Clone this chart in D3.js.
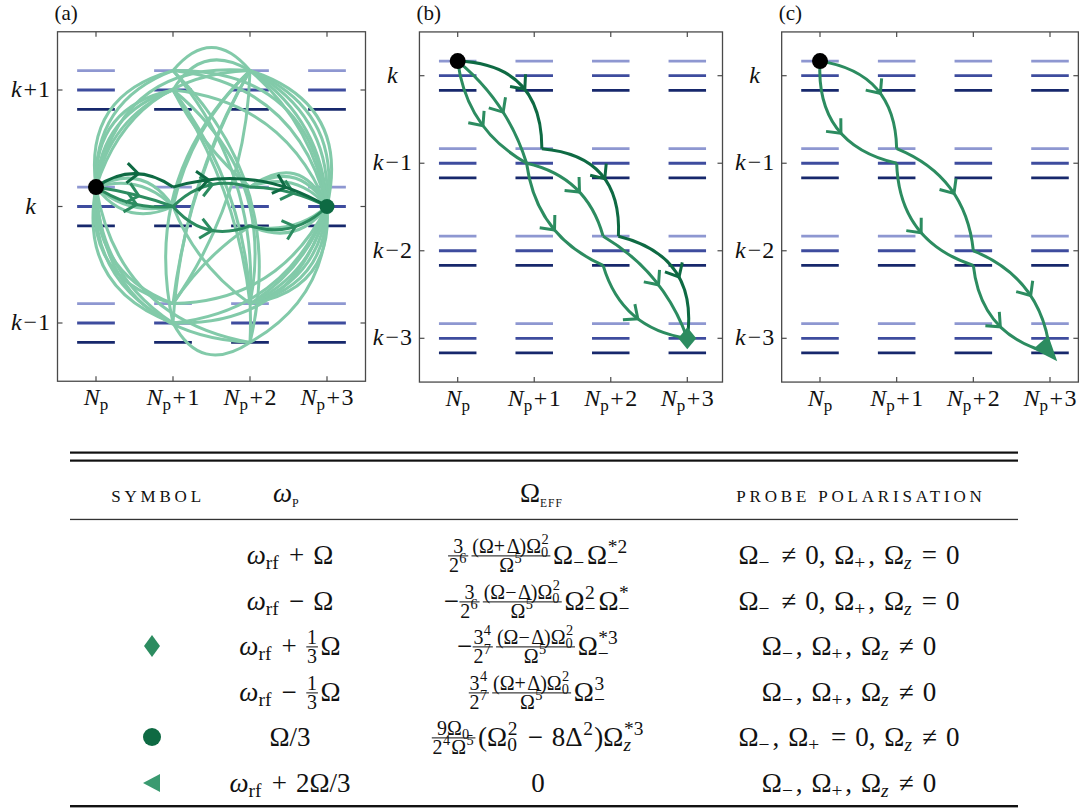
<!DOCTYPE html>
<html>
<head>
<meta charset="utf-8">
<script src="https://cdn.jsdelivr.net/npm/d3@7"></script>
<style>
  body { margin: 0; background: #fff; }
  svg { display: block; }
</style>
</head>
<body>
<svg id="fig" width="1092" height="810"></svg>
<script>
// ---------------- data ----------------
// photon-number columns and band indices shown on the axes
const photonSteps = [0, 1, 2, 3];
const photonLabels = ["", "1", "2", "3"];
const bandTicksA = [1, 0, -1];
const bandTicksBC = [0, -1, -2, -3];
// three Zeeman sublevels per band, offset in units of 1/6 of a band spacing
const sublevels = [1, 0, -1];

// node = [photon step, band offset from k, sublevel]
// panel (a): every route between the start and end states
const backgroundArcsA = [
  [[0,0,1],[1,1,0]], [[0,0,1],[1,1,0]], [[0,0,1],[1,1,0]],
  [[0,0,1],[1,1,1]], [[0,0,1],[1,1,1]], [[0,0,1],[2,1,1]], [[0,0,1],[2,1,1]],
  [[0,0,1],[1,-1,0]], [[0,0,1],[1,-1,0]], [[0,0,1],[1,-1,0]],
  [[0,0,1],[1,-1,1]], [[0,0,1],[1,-1,1]], [[0,0,1],[2,-1,-1]], [[0,0,1],[2,-1,-1]],
  [[0,0,1],[1,0,0]], [[0,0,1],[1,0,0]], [[0,0,1],[1,0,0]], [[0,0,1],[1,0,0]],
  [[1,1,1],[2,1,1]], [[1,1,0],[2,1,1]], [[1,1,0],[2,-1,1]], [[1,1,0],[2,-1,-1]],
  [[1,1,1],[2,-1,1]], [[1,1,1],[2,-1,-1]], [[1,1,0],[2,-1,1]],
  [[1,-1,0],[2,1,1]], [[1,-1,0],[2,1,1]], [[1,-1,0],[2,-1,-1]], [[1,-1,1],[2,1,1]], [[1,-1,1],[2,1,1]],
  [[1,0,0],[2,1,1]], [[1,0,0],[2,-1,1]], [[1,1,0],[2,0,1]], [[1,-1,1],[2,0,-1]],
  [[2,1,1],[3,0,0]], [[2,1,1],[3,0,0]], [[2,1,1],[3,0,0]], [[2,1,1],[3,0,0]], [[2,1,1],[3,0,0]],
  [[1,1,1],[3,0,0]], [[1,1,1],[3,0,0]], [[1,1,0],[3,0,0]],
  [[2,-1,1],[3,0,0]], [[2,-1,1],[3,0,0]], [[2,-1,1],[3,0,0]], [[2,-1,1],[3,0,0]], [[2,-1,1],[3,0,0]],
  [[1,-1,0],[3,0,0]], [[1,-1,0],[3,0,0]], [[1,-1,1],[3,0,0]],
  [[2,0,1],[3,0,0]], [[2,0,1],[3,0,0]], [[2,0,1],[3,0,0]],
  [[2,0,-1],[3,0,0]], [[2,0,-1],[3,0,0]], [[2,-1,-1],[3,0,0]]
];
const backgroundBendsA = [
  0.26, 0.34, 0.42, 0.36, 0.44, 0.35, 0.45,
  -0.26, -0.34, -0.42, -0.36, -0.44, -0.35, -0.45,
  0.45, 0.3, -0.25, -0.4,
  0.6, 0.5, 0.12, 0.18, 0.2, 0.28, 0.3,
  0.12, 0.28, -0.55, 0.1, -0.15,
  0.15, -0.15, -0.1, 0.1,
  0.18, 0.25, 0.32, 0.39, 0.46, 0.35, 0.45, 0.3,
  -0.18, -0.25, -0.32, -0.39, -0.46, -0.4, -0.3, -0.3,
  0.35, 0.5, 0.6, -0.25, -0.4, -0.3
];

// highlighted routes
const routesA = [
  [[0,0,1],[1,0,0],[2,0,1],[3,0,0]],
  [[0,0,1],[1,0,0],[2,0,-1],[3,0,0]],
  [[0,0,1],[1,0,1],[3,0,0]]
];
const routesB = [
  [[0,0,1],[0.9,-1,0],[1.9,-2,1],[3,-3,0]],
  [[0,0,1],[0.9,-1,0],[1.9,-2,-1],[3,-3,0]],
  [[0,0,1],[1.1,-1,1],[2.1,-2,1],[3,-3,0]]
];
const routesC = [
  [[0,0,1],[1,-1,1],[2,-2,0],[3,-3,-1]],
  [[0,0,1],[1,-1,0],[2,-2,-1],[3,-3,-1]]
];

// table rows
const rowSymbols = ["", "", "diamond", "", "circle", "triangle"];
const probeFrequencies = [
  "ω_{\\rm{rf}} + Ω",
  "ω_{\\rm{rf}} − Ω",
  "ω_{\\rm{rf}} + \\frac{1}{3}Ω",
  "ω_{\\rm{rf}} − \\frac{1}{3}Ω",
  "Ω/3",
  "ω_{\\rm{rf}} + 2Ω/3"
];
const effectiveCouplings = [
  "\\frac{3}{2^6}\\frac{(Ω+Δ)Ω_0^2}{Ω^5}Ω_−Ω_−^{*2}",
  "−\\frac{3}{2^6}\\frac{(Ω−Δ)Ω_0^2}{Ω^5}Ω_−^2Ω_−^*",
  "−\\frac{3^4}{2^7}\\frac{(Ω−Δ)Ω_0^2}{Ω^5}Ω_−^{*3}",
  "\\frac{3^4}{2^7}\\frac{(Ω+Δ)Ω_0^2}{Ω^5}Ω_−^3",
  "\\frac{9Ω_0}{2^4Ω^5}(Ω_0^2 − 8Δ^2)Ω_z^{*3}",
  "0"
];
const polarisations = [
  "Ω_− ≠ 0, Ω_+, Ω_z = 0",
  "Ω_− ≠ 0, Ω_+, Ω_z = 0",
  "Ω_−, Ω_+, Ω_z ≠ 0",
  "Ω_−, Ω_+, Ω_z ≠ 0",
  "Ω_−, Ω_+ = 0, Ω_z ≠ 0",
  "Ω_−, Ω_+, Ω_z ≠ 0"
];

// ---------------- styles ----------------
const FONT = "'Liberation Serif','Times New Roman',serif";
const levelColors = ["#8e97d1", "#3e4c9e", "#17286c"];
const GREEN_LIGHT = "#82caa9";
const GREEN_MID = "#2c8c60";
const GREEN_DARK = "#0e6a43";

const svg = d3.select("#fig").attr("font-family", FONT);

// ---------------- geometry helpers ----------------
function bezier(p0, p1, b) {
  const dx = p1[0] - p0[0], dy = p1[1] - p0[1];
  return [p0, [(p0[0] + p1[0]) / 2 + b * dy, (p0[1] + p1[1]) / 2 - b * dx], p1];
}
function pointAt(B, t) {
  const [a, c, d] = B, u = 1 - t;
  return [u*u*a[0] + 2*u*t*c[0] + t*t*d[0], u*u*a[1] + 2*u*t*c[1] + t*t*d[1]];
}
function tangentAt(B, t) {
  const [a, c, d] = B, u = 1 - t;
  const tx = 2*u*(c[0]-a[0]) + 2*t*(d[0]-c[0]);
  const ty = 2*u*(c[1]-a[1]) + 2*t*(d[1]-c[1]);
  const n = Math.hypot(tx, ty);
  return [tx / n, ty / n];
}
function curvePath(B) {
  const p = d3.path();
  p.moveTo(B[0][0], B[0][1]);
  p.quadraticCurveTo(B[1][0], B[1][1], B[2][0], B[2][1]);
  return p.toString();
}
function chevronPath(B, t, len, ang) {
  const P = pointAt(B, t), T = tangentAt(B, t);
  const bx = -T[0], by = -T[1];
  const arm = s => [P[0] + len * (bx * Math.cos(s*ang) - by * Math.sin(s*ang)),
                    P[1] + len * (bx * Math.sin(s*ang) + by * Math.cos(s*ang))];
  const a1 = arm(1), a2 = arm(-1);
  const p = d3.path();
  p.moveTo(a1[0], a1[1]); p.lineTo(P[0], P[1]); p.lineTo(a2[0], a2[1]);
  return p.toString();
}

// ---------------- panels ----------------
function bandLabel(g, k, x, y) {
  const t = g.append("text").attr("x", x).attr("y", y).attr("text-anchor", "middle")
    .attr("font-size", 24).attr("fill", "#111");
  t.append("tspan").attr("font-style", "italic").text("k");
  if (k > 0) { t.append("tspan").attr("dx", 2).text("+"); t.append("tspan").attr("dx", 1).text(k); }
  if (k < 0) { t.append("tspan").attr("dx", 2).text("−"); t.append("tspan").attr("dx", 1).text(-k); }
}
function photonLabel(g, i, x, y) {
  const t = g.append("text").attr("x", x).attr("y", y).attr("text-anchor", "middle")
    .attr("font-size", 24).attr("fill", "#111");
  t.append("tspan").attr("font-style", "italic").text("N");
  t.append("tspan").attr("font-size", 17).attr("dy", 5).text("p");
  if (photonLabels[i]) {
    t.append("tspan").attr("dy", -5).attr("dx", 1.5).text("+");
    t.append("tspan").attr("dx", 1.5).text(photonLabels[i]);
  }
}

function drawPanel(cfg) {
  const g = svg.append("g");
  const x = d3.scaleLinear().domain([0, 3]).range(cfg.xr);
  const y = d3.scaleLinear().domain([cfg.bands[0], cfg.bands[cfg.bands.length - 1]]).range(cfg.yr);
  const fx0 = x(-0.5), fx1 = x(cfg.xRightEdge), fy0 = y(cfg.bands[0] + 0.5), fy1 = y(cfg.bands[cfg.bands.length - 1] - 0.5);
  const node = n => [x(n[0]), y(n[1] + n[2] / 6)];

  // sublevel bars
  photonSteps.forEach(i => cfg.bands.forEach(k => sublevels.forEach((s, si) => {
    g.append("line").attr("x1", x(i - 0.245)).attr("x2", x(i + 0.245))
      .attr("y1", y(k + s / 6)).attr("y2", y(k + s / 6))
      .attr("stroke", levelColors[si]).attr("stroke-width", 2.8);
  })));

  // background arcs
  (cfg.arcs || []).forEach((a, i) => {
    g.append("path").attr("d", curvePath(bezier(node(a[0]), node(a[1]), cfg.arcBends[i])))
      .attr("fill", "none").attr("stroke", GREEN_LIGHT).attr("stroke-width", 3);
  });

  // highlighted routes
  const endTangents = [];
  cfg.routes.forEach((r, ri) => {
    const col = cfg.routeColors[ri];
    const bends = cfg.routeBends[ri];
    for (let s = 0; s < r.length - 1; s++) {
      const B = bezier(node(r[s]), node(r[s + 1]), bends[s]);
      g.append("path").attr("d", curvePath(B)).attr("fill", "none")
        .attr("stroke", col).attr("stroke-width", 3);
      const ts = (cfg.chevronTs && cfg.chevronTs[ri] && cfg.chevronTs[ri][s]) || [0.55];
      ts.forEach(t => g.append("path").attr("d", chevronPath(B, t, 15, 0.72))
        .attr("fill", "none").attr("stroke", col).attr("stroke-width", 3)
        .attr("stroke-linejoin", "miter"));
      if (s === r.length - 2) endTangents.push(tangentAt(B, 1));
    }
  });

  // start and end markers
  const S = node(cfg.routes[0][0]);
  g.append("circle").attr("cx", S[0]).attr("cy", S[1]).attr("r", 8).attr("fill", "#000");
  const E = node(cfg.routes[0][cfg.routes[0].length - 1]);
  if (cfg.endMarker === "circle")
    g.append("circle").attr("cx", E[0]).attr("cy", E[1]).attr("r", 7.5).attr("fill", GREEN_DARK);
  if (cfg.endMarker === "diamond")
    g.append("path").attr("d", `M${E[0]},${E[1]-11}L${E[0]+9},${E[1]}L${E[0]},${E[1]+11}L${E[0]-9},${E[1]}Z`)
      .attr("fill", GREEN_MID);
  if (cfg.endMarker === "arrow") {
    let tx = d3.mean(endTangents, d => d[0]), ty = d3.mean(endTangents, d => d[1]);
    const n = Math.hypot(tx, ty); tx /= n; ty /= n;
    const tip = [E[0] + tx * 11, E[1] + ty * 11];
    const base = [tip[0] - tx * 25, tip[1] - ty * 25];
    const nx = -ty, ny = tx;
    g.append("path").attr("d", `M${tip}L${base[0] + nx*10},${base[1] + ny*10}L${base[0] - nx*10},${base[1] - ny*10}Z`)
      .attr("fill", cfg.routeColors[0]);
  }

  // frame and ticks
  g.append("rect").attr("x", fx0).attr("y", fy0).attr("width", fx1 - fx0).attr("height", fy1 - fy0)
    .attr("fill", "none").attr("stroke", "#4a4a4a").attr("stroke-width", 1.3);
  photonSteps.forEach(i => {
    g.append("line").attr("x1", x(i)).attr("x2", x(i)).attr("y1", fy1).attr("y2", fy1 - 5).attr("stroke", "#4a4a4a").attr("stroke-width", 1.2);
    g.append("line").attr("x1", x(i)).attr("x2", x(i)).attr("y1", fy0).attr("y2", fy0 + 5).attr("stroke", "#4a4a4a").attr("stroke-width", 1.2);
    photonLabel(g, i, x(i), fy1 + 24);
  });
  cfg.bands.forEach(k => {
    g.append("line").attr("x1", fx0).attr("x2", fx0 + 5).attr("y1", y(k)).attr("y2", y(k)).attr("stroke", "#4a4a4a").attr("stroke-width", 1.2);
    g.append("line").attr("x1", fx1).attr("x2", fx1 - 5).attr("y1", y(k)).attr("y2", y(k)).attr("stroke", "#4a4a4a").attr("stroke-width", 1.2);
    bandLabel(g, k, fx0 - 27, y(k) + 7);
  });
  g.append("text").attr("x", fx0 - 3).attr("y", 20).attr("font-size", 21).attr("fill", "#111").text(cfg.label);
}

drawPanel({
  label: "(a)", xr: [96, 327], yr: [90, 323], bands: bandTicksA, xRightEdge: 3.5,
  arcs: backgroundArcsA, arcBends: backgroundBendsA,
  routes: routesA, routeColors: [GREEN_MID, GREEN_MID, GREEN_DARK],
  routeBends: [[0.05, 0.3, 0.12], [-0.18, -0.35, -0.3], [0.35, 0.22]],
  chevronTs: [null, null, [[0.55], [0.22, 0.72]]],
  endMarker: "circle"
});
drawPanel({
  label: "(b)", xr: [457.7, 687.3], yr: [75.7, 338.3], bands: bandTicksBC, xRightEdge: 3.46,
  routes: routesB, routeColors: [GREEN_MID, GREEN_MID, GREEN_DARK],
  routeBends: [[-0.25, 0.3, 0.18], [0.15, -0.28, -0.32], [0.48, 0.48, 0.45]],
  endMarker: "diamond"
});
drawPanel({
  label: "(c)", xr: [820, 1050], yr: [75.7, 338.3], bands: bandTicksBC, xRightEdge: 3.37,
  routes: routesC, routeColors: [GREEN_MID, GREEN_MID],
  routeBends: [[0.42, 0.3, 0.3], [-0.42, -0.35, -0.35]],
  endMarker: "arrow"
});

// ---------------- table ----------------
function parseTex(s) {
  let i = 0;
  const charNode = c => ({ k: "t", text: c, it: /[A-Za-zω]/.test(c) });
  function seq(end) {
    const out = [];
    while (i < s.length) {
      const c = s[i];
      if (c === end) { i++; break; }
      if (c === "\\") {
        const m = /^\\([a-z]+)/.exec(s.slice(i));
        i += m[0].length;
        if (m[1] === "frac") {
          i++; const num = seq("}"); i++; const den = seq("}");
          out.push({ k: "frac", num, den });
        } else if (m[1] === "rm") {
          i++; const inner = seq("}");
          inner.forEach(n => { if (n.k === "t") n.it = false; });
          out.push(...inner);
        }
        continue;
      }
      if (c === "_" || c === "^") {
        i++;
        let arg;
        if (s[i] === "{") { i++; arg = seq("}"); } else { arg = [charNode(s[i])]; i++; }
        let last = out[out.length - 1];
        if (!last || last.k !== "ss") { last = { k: "ss", base: out.pop(), sup: null, sub: null }; out.push(last); }
        if (c === "_") last.sub = arg; else last.sup = arg;
        continue;
      }
      if (c === " ") { out.push({ k: "sp" }); i++; continue; }
      out.push(charNode(c)); i++;
    }
    return out;
  }
  return seq(null);
}

function layout(g, nodes, x, y, fs) {
  for (const n of nodes) {
    if (n.k === "t") {
      const t = g.append("text").attr("x", x).attr("y", y).attr("font-size", fs)
        .attr("font-style", n.it ? "italic" : "normal").attr("fill", "#111").text(n.text);
      x += t.node().getComputedTextLength();
      if (/[+−=≠]/.test(n.text) && fs < 20) x += 0.08 * fs;
    } else if (n.k === "sp") {
      x += 0.33 * fs;
    } else if (n.k === "ss") {
      x = layout(g, [n.base], x, y, fs);
      const sfs = fs * 0.72;
      let w = 0;
      if (n.sup) w = Math.max(w, layout(g, n.sup, x + 0.02 * fs, y - 0.42 * fs, sfs) - x);
      if (n.sub) w = Math.max(w, layout(g, n.sub, x, y + 0.2 * fs, sfs) - x);
      x += w + 0.05 * fs;
    } else if (n.k === "frac") {
      const ffs = fs * 0.74;
      const gn = g.append("g"), gd = g.append("g");
      const wn = layout(gn, n.num, 0, 0, ffs), wd = layout(gd, n.den, 0, 0, ffs);
      const W = Math.max(wn, wd) + 0.1 * fs;
      const bar = y - 0.3 * fs;
      gn.attr("transform", `translate(${x + (W - wn) / 2},${bar - 0.12 * fs})`);
      gd.attr("transform", `translate(${x + (W - wd) / 2},${bar + 0.58 * fs})`);
      g.append("line").attr("x1", x + 0.02 * fs).attr("x2", x + W - 0.02 * fs).attr("y1", bar).attr("y2", bar)
        .attr("stroke", "#111").attr("stroke-width", 1);
      x += W + 0.08 * fs;
    }
  }
  return x;
}

function mathText(str, cx, baseline, fs) {
  const g = svg.append("g");
  const w = layout(g, parseTex(str), 0, 0, fs);
  g.attr("transform", `translate(${cx - w / 2},${baseline})`);
}

const T_LEFT = 70, T_RIGHT = 1018;
const COL_X = [152, 290, 538, 849];
const ROW_Y = [564, 610, 655, 701, 746, 792];
const FS = 27;

svg.append("rect").attr("x", T_LEFT).attr("y", 451.5).attr("width", T_RIGHT - T_LEFT).attr("height", 2.2).attr("fill", "#111");
svg.append("rect").attr("x", T_LEFT).attr("y", 459.5).attr("width", T_RIGHT - T_LEFT).attr("height", 2.2).attr("fill", "#111");
svg.append("rect").attr("x", T_LEFT).attr("y", 518.8).attr("width", T_RIGHT - T_LEFT).attr("height", 1.3).attr("fill", "#333");
svg.append("rect").attr("x", T_LEFT).attr("y", 805).attr("width", T_RIGHT - T_LEFT).attr("height", 2.4).attr("fill", "#111");

// header
const HEAD_Y = 502;
svg.append("text").attr("x", 158).attr("y", HEAD_Y).attr("text-anchor", "middle")
  .attr("font-size", 17).attr("letter-spacing", 3.8).attr("fill", "#111").text("SYMBOL");
svg.append("text").attr("x", 861).attr("y", HEAD_Y).attr("text-anchor", "middle")
  .attr("font-size", 17).attr("letter-spacing", 3.8).attr("fill", "#111").text("PROBE POLARISATION");
{
  const t = svg.append("text").attr("x", 273).attr("y", HEAD_Y).attr("fill", "#111");
  t.append("tspan").attr("font-size", 27).attr("font-style", "italic").text("ω");
  t.append("tspan").attr("font-size", 12).attr("dy", 5).text("P");
}
{
  const t = svg.append("text").attr("x", 520).attr("y", HEAD_Y).attr("fill", "#111");
  t.append("tspan").attr("font-size", 27).text("Ω");
  t.append("tspan").attr("font-size", 11.5).attr("dy", 5).attr("letter-spacing", 1).text("EFF");
}

// rows
ROW_Y.forEach((yb, r) => {
  mathText(probeFrequencies[r], COL_X[1], yb, FS);
  mathText(effectiveCouplings[r], COL_X[2], yb, FS);
  mathText(polarisations[r], COL_X[3], yb, FS);
  const cy = yb - 9, cx = COL_X[0];
  if (rowSymbols[r] === "diamond")
    svg.append("path").attr("d", `M${cx},${cy - 11}L${cx + 8},${cy}L${cx},${cy + 11}L${cx - 8},${cy}Z`).attr("fill", GREEN_MID);
  if (rowSymbols[r] === "circle")
    svg.append("circle").attr("cx", cx).attr("cy", cy).attr("r", 9).attr("fill", GREEN_DARK);
  if (rowSymbols[r] === "triangle")
    svg.append("path").attr("d", `M${cx - 9},${cy}L${cx + 8},${cy - 9}L${cx + 8},${cy + 9}Z`).attr("fill", "#3a9a70");
});
</script>
</body>
</html>
